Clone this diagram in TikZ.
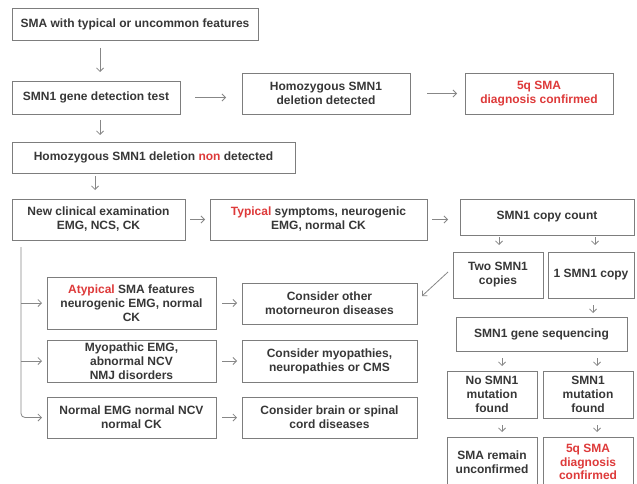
\documentclass[tikz,border=0pt]{standalone}
\usepackage{fontspec}
\setmainfont{Liberation Sans}
\usetikzlibrary{arrows.meta}

\definecolor{boxgray}{RGB}{125,125,125}
\definecolor{linegray}{RGB}{135,135,135}
\definecolor{txtgray}{RGB}{55,55,55}
\definecolor{hired}{RGB}{222,58,58}
\newcommand{\redword}[1]{\textcolor{hired}{#1}}

\begin{document}
\begin{tikzpicture}[x=1pt,y=-1pt,>={Straight Barb[length=3.5pt,width=7pt]},
  box/.style={draw=boxgray,line width=0.9pt,fill=white,align=center,inner sep=2pt,outer sep=0pt,
    text=txtgray,font=\bfseries\fontsize{12}{14}\selectfont},
  link/.style={->,draw=linegray,line width=0.8pt,shorten <=5pt,shorten >=5pt}]

  \clip (0,0) rectangle (637,484);
  \fill[white] (0,0) rectangle (637,484);

  % first test
  \node[box,minimum width=246pt,minimum height=32pt] (start) at (135,24) {SMA with typical or uncommon features};
  \node[box,minimum width=168pt,minimum height=33pt] (test) at (96,97.5) {SMN1 gene detection test};
  \node[box,minimum width=168pt,minimum height=41pt] (homdel) at (326,93.5) {Homozygous SMN1\\deletion detected};
  \node[box,minimum width=148pt,minimum height=41pt,text=hired] (conf1) at (539,93.5) {5q SMA\\diagnosis confirmed};
  \node[box,minimum width=283pt,minimum height=31pt] (nondet) at (153.5,157.5) {Homozygous SMN1 deletion \redword{non} detected};

  % clinical examination
  \node[box,minimum width=173pt,minimum height=41pt] (exam) at (98.5,219.5) {New clinical examination\\EMG, NCS, CK};
  \node[box,minimum width=217pt,minimum height=41pt] (typical) at (318.5,219.5) {\redword{Typical} symptoms, neurogenic\\EMG, normal CK};

  % copy count branch
  \node[box,minimum width=174pt,minimum height=36pt] (count) at (547,217) {SMN1 copy count};
  \node[box,minimum width=90pt,minimum height=46pt] (two) at (498,275) {Two SMN1\\copies};
  \node[box,minimum width=86pt,minimum height=46pt] (one) at (591,275) {1 SMN1 copy};
  \node[box,minimum width=171pt,minimum height=34pt] (seq) at (541.5,334) {SMN1 gene sequencing};
  \node[box,minimum width=90pt,minimum height=47pt] (nomut) at (492,394.5) {No SMN1\\mutation\\found};
  \node[box,minimum width=90pt,minimum height=47pt] (mut) at (588,394.5) {SMN1\\mutation\\found};
  \node[box,minimum width=90pt,minimum height=50pt,font=\bfseries\fontsize{12}{13.5}\selectfont] (unconf) at (492,462) {SMA remain\\unconfirmed};
  \node[box,minimum width=90pt,minimum height=50pt,text=hired,font=\bfseries\fontsize{12}{13.5}\selectfont] (conf2) at (588,462) {5q SMA\\diagnosis\\confirmed};

  % other findings
  \node[box,minimum width=169pt,minimum height=52pt] (atyp) at (131.5,303) {\redword{Atypical} SMA features\\neurogenic EMG, normal\\CK};
  \node[box,minimum width=175pt,minimum height=41pt] (other) at (329.5,303.5) {Consider other\\motorneuron diseases};
  \node[box,minimum width=169pt,minimum height=42pt] (myo) at (131.5,361) {Myopathic EMG,\\abnormal NCV\\NMJ disorders};
  \node[box,minimum width=175pt,minimum height=42pt] (myocons) at (329.5,361) {Consider myopathies,\\neuropathies or CMS};
  \node[box,minimum width=169pt,minimum height=41pt] (normal) at (131.5,417.5) {Normal EMG normal NCV\\normal CK};
  \node[box,minimum width=175pt,minimum height=41pt] (brain) at (329.5,417.5) {Consider brain or spinal\\cord diseases};

  \path[link]
    (test) edge[shorten <=15pt,shorten >=16pt] (test -| homdel.west)
    (homdel) edge[shorten <=17pt,shorten >=8pt] (conf1)
    (exam) edge (typical)
    (typical) edge[shorten >=12pt] (typical -| count.west)
    (atyp) edge[shorten <=6pt] (atyp -| other.west)
    (myo) edge[shorten <=6pt] (myocons)
    (normal) edge[shorten <=6pt] (brain);

  % downward steps, a little off centre as in the source
  \draw[link,shorten <=8pt,shorten >=9pt] ([xshift=4pt]test.north |- start.south) -- ([xshift=4pt]test.north);
  \draw[link,shorten <=6pt,shorten >=7pt] ([xshift=4pt]test.south) -- ([xshift=4pt]test.south |- nondet.north);
  \draw[link,shorten <=3pt,shorten >=9pt] ([xshift=-3.5pt]exam.north |- nondet.south) -- ([xshift=-3.5pt]exam.north);
  \draw[link,shorten <=2pt,shorten >=7pt] ([xshift=1pt]two.north |- count.south) -- ([xshift=1pt]two.north);
  \draw[link,shorten <=2pt,shorten >=7pt] ([xshift=4pt]one.north |- count.south) -- ([xshift=4pt]one.north);
  \draw[link,shorten <=7pt,shorten >=4pt] ([xshift=2pt]one.south) -- ([xshift=2pt]one.south |- seq.north);
  \draw[link,shorten <=7pt] ([xshift=10pt]nomut.north |- seq.south) -- ([xshift=10pt]nomut.north);
  \draw[link,shorten <=7pt] ([xshift=9pt]mut.north |- seq.south) -- ([xshift=9pt]mut.north);
  \draw[link,shorten <=7pt] ([xshift=10pt]nomut.south) -- ([xshift=10pt]unconf.north);
  \draw[link,shorten <=7pt] ([xshift=9pt]mut.south) -- ([xshift=9pt]conf2.north);

  \draw[link,shorten <=0pt,shorten >=0pt] ([xshift=-5pt,yshift=3pt]two.west) -- ([xshift=5pt,yshift=-13pt]other.north east);

  % left trunk
  \coordinate (trunk) at ([xshift=9pt,yshift=-7pt]exam.south west);
  \draw[link,shorten <=0pt,rounded corners=4pt] (trunk) |- (normal);
  \draw[link,shorten <=0pt] (trunk |- atyp) -- (atyp);
  \draw[link,shorten <=0pt] (trunk |- myo) -- (myo);
\end{tikzpicture}
\end{document}
